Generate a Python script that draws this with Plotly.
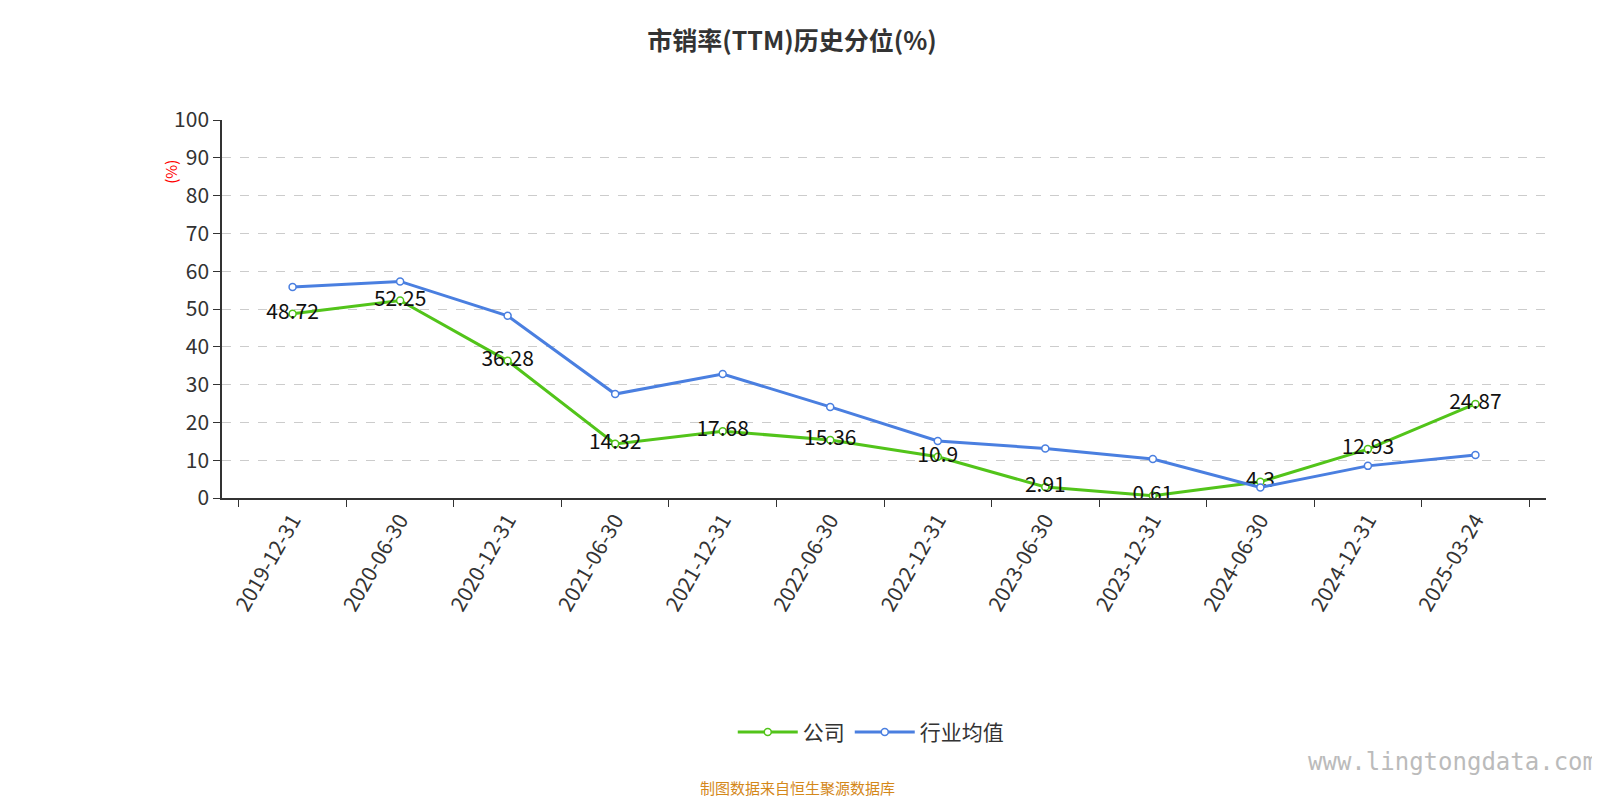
import plotly.graph_objects as go

dates = ["2019-12-31","2020-06-30","2020-12-31","2021-06-30","2021-12-31","2022-06-30",
         "2022-12-31","2023-06-30","2023-12-31","2024-06-30","2024-12-31","2025-03-24"]
company = [48.72,52.25,36.28,14.32,17.68,15.36,10.9,2.91,0.61,4.3,12.93,24.87]
industry = [55.8,57.3,48.2,27.5,32.8,24.1,15.1,13.1,10.3,2.8,8.5,11.4]
company_labels = ["48.72","52.25","36.28","14.32","17.68","15.36","10.9","2.91","0.61","4.3","12.93","24.87"]

font = "Noto Sans CJK SC"
fig = go.Figure()
fig.add_trace(go.Scatter(x=dates, y=company, name="公司", mode="lines+markers+text",
    text=company_labels, textposition="middle center", textfont=dict(size=21, color="#111"),
    line=dict(color="#52c41a", width=3),
    marker=dict(size=7, color="white", line=dict(color="#52c41a", width=1.5))))
fig.add_trace(go.Scatter(x=dates, y=industry, name="行业均值", mode="lines+markers",
    line=dict(color="#4a7fe0", width=3),
    marker=dict(size=7, color="white", line=dict(color="#4a7fe0", width=1.5))))

fig.update_layout(
    width=1600, height=800, plot_bgcolor="white", paper_bgcolor="white",
    font=dict(family=font, color="#333"),
    title=dict(text="<b>市销率(TTM)历史分位(%)</b>", x=0.49, y=0.97, xanchor="center",
               font=dict(size=25, color="#333")),
    margin=dict(l=214, r=62, t=112, b=310),
    xaxis=dict(type="category", tickangle=-60, tickfont=dict(size=21, color="#333"),
               showline=True, linecolor="#333", linewidth=1.5, ticks="outside",
               tickson="boundaries",
               ticklen=7, tickcolor="#333", showgrid=False),
    yaxis=dict(range=[0,100], dtick=10, tickfont=dict(size=21, color="#333"),
               showline=True, linecolor="#333", linewidth=1.5, ticks="outside",
               ticklen=7, tickcolor="#333", gridcolor="#ccc", griddash="dash",
               zeroline=False),
    legend=dict(orientation="h", x=0.49, xanchor="center", y=-0.62, yanchor="middle",
                font=dict(size=21, color="#333"), itemwidth=60),
    showlegend=True,
)
fig.add_annotation(text="(%)", xref="paper", yref="paper", x=-0.048, y=0.9, textangle=-90,
                   showarrow=False, font=dict(size=15, color="red"))
fig.add_annotation(text="制图数据来自恒生聚源数据库", xref="paper", yref="paper", x=0.435, y=-0.8,
                   xanchor="center", showarrow=False, font=dict(size=15, color="#d4881a"))
fig.add_annotation(text="www.lingtongdata.com", xref="paper", yref="paper", x=1.04, y=-0.74,
                   xanchor="right", showarrow=False, font=dict(size=24, color="#bbb", family="DejaVu Sans Mono"))
fig.write_html("out.html")
